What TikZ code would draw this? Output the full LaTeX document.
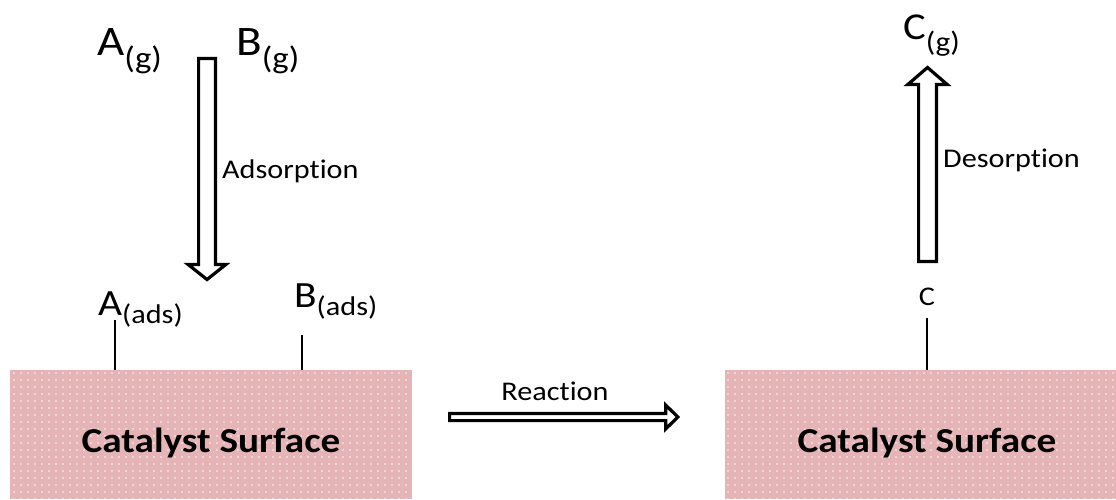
\documentclass[tikz,border=0pt]{standalone}
\usepackage{fontspec}
\setmainfont{Carlito}[FakeStretch=1.12, Ligatures={NoCommon}]
\usetikzlibrary{calc,patterns.meta}

\definecolor{surfpink}{RGB}{229,180,182}

% species with a lowered phase label: sizes, drop, symbol, phase
\newcommand{\species}[5]{{\fontsize{#1}{#1}\selectfont #4}\raisebox{-#3}{\fontsize{#2}{#2}\selectfont #5}}

% hollow block arrow: tail, tip, half shaft, half head, head length
\newcommand{\blockarrow}[5]{%
  \coordinate (hb) at ($(#2)!#5!(#1)$);
  \draw[blockarrow] ($(#1)!#3!90:(#2)$) -- ($(hb)!#3!90:(#2)$) -- ($(hb)!#4!90:(#2)$)
    -- (#2) -- ($(hb)!#4!-90:(#2)$) -- ($(hb)!#3!-90:(#2)$) -- ($(#1)!#3!-90:(#2)$) -- cycle;}

\begin{document}
\begin{tikzpicture}[x=1pt, y=1pt,
    surface/.style={preaction={fill=surfpink}, pattern={Dots[distance=7pt, radius=0.85pt]},
      pattern color=white!88!surfpink, inner sep=0pt, minimum height=129pt},
    blockarrow/.style={draw=black, fill=white, line width=3.2pt, line join=miter},
    lbl/.style={font=\fontsize{27}{27}\selectfont, inner sep=0pt, anchor=base west},
    chem/.style={inner sep=0pt, anchor=base west},
    stem/.style={line width=1.2pt}]
  \useasboundingbox (0,0) rectangle (1116,499);

  % catalyst surfaces
  \node[surface, minimum width=402pt] (surfL) at (211,64.5) {};
  \node[surface, minimum width=391pt] (surfR) at (920.5,64.5) {};
  \node[anchor=base, inner sep=0pt, font=\fontsize{35}{35}\selectfont\bfseries] (catL) at (211,47) {Catalyst Surface};
  \node[anchor=base, inner sep=0pt, font=\fontsize{35}{35}\selectfont\bfseries] (catR) at (927,47) {Catalyst Surface};

  % gas phase and adsorbed species
  \node[chem] (ag) at (97,443) {\species{42}{31}{13pt}{A}{(g)}};
  \node[chem] (bg) at (236,443) {\species{42}{31}{13pt}{B}{(g)}};
  \node[chem] (aads) at (98,184) {\species{37}{27}{8pt}{A}{(ads)}};
  \node[chem] (bads) at (294,192) {\species{37}{27}{8pt}{B}{(ads)}};
  \node[chem] (cg) at (903,459) {\species{38}{28}{12pt}{C}{(g)}};
  \node[lbl, anchor=base] (cads) at (927,194) {C};

  % bonds to the surface
  \coordinate (aStem) at (115,179);
  \coordinate (bStem) at (302,164);
  \coordinate (cStem) at (927,181);
  \draw[stem] (aStem) -- (aStem |- surfL.north);
  \draw[stem] (bStem) -- (bStem |- surfL.north);
  \draw[stem] (cStem) -- (cStem |- surfR.north);

  % steps
  \coordinate (adsTail) at (207,440.4);
  \coordinate (adsTip) at (207,219.5);
  \blockarrow{adsTail}{adsTip}{8.4pt}{18.9pt}{15pt}
  \node[lbl] (adsorp) at (222,321) {Adsorption};

  \coordinate (desTail) at (927.5,237.6);
  \coordinate (desTip) at (927.5,431.5);
  \blockarrow{desTail}{desTip}{8.9pt}{19.7pt}{17pt}
  \node[lbl] (desorp) at (943,331) {Desorption};

  \coordinate (reTail) at (449.6,82);
  \coordinate (reTip) at (677.8,82);
  \blockarrow{reTail}{reTip}{3.6pt}{11.9pt}{12pt}
  \node[lbl, anchor=base] (react) at (555,99) {Reaction};
\end{tikzpicture}
\end{document}
